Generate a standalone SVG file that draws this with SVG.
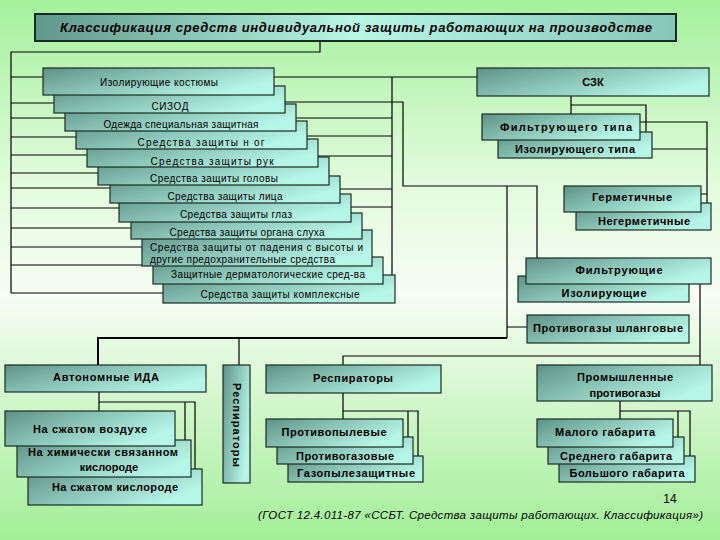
<svg xmlns="http://www.w3.org/2000/svg" width="720" height="540" viewBox="0 0 720 540">
<defs>
<linearGradient id="bg" x1="0" y1="0" x2="0" y2="1">
<stop offset="0" stop-color="#a4f19c"/>
<stop offset="0.35" stop-color="#e4fbdf"/>
<stop offset="0.55" stop-color="#f6fdf4"/>
<stop offset="0.75" stop-color="#d2f6cb"/>
<stop offset="1" stop-color="#a2ef98"/>
</linearGradient>
<linearGradient id="bx" x1="0" y1="0" x2="1" y2="0.5">
<stop offset="0" stop-color="#5e9286"/>
<stop offset="0.4" stop-color="#82bcae"/>
<stop offset="1" stop-color="#b6f6e6"/>
</linearGradient>
<linearGradient id="tg" x1="0" y1="0" x2="1" y2="0">
<stop offset="0" stop-color="#5f988a"/>
<stop offset="0.5" stop-color="#b8f7e6"/>
<stop offset="1" stop-color="#86c6b6"/>
</linearGradient>
<style>
.b{fill:url(#bx);stroke:#1b2a24;stroke-width:1.2}
.t{fill:url(#tg);stroke:#1b2a24;stroke-width:2}
.c{fill:none;stroke:#000;stroke-width:1.2}
.n{font-family:"Liberation Sans",Arial,sans-serif;font-size:10px;fill:#000;text-anchor:middle}
.s{text-anchor:start}
.k{font-family:"Liberation Sans",Arial,sans-serif;font-size:11px;font-weight:bold;fill:#000;text-anchor:middle}
.h{font-family:"Liberation Sans",Arial,sans-serif;font-size:13px;font-weight:bold;font-style:italic;fill:#000;text-anchor:middle}
.f{font-family:"Liberation Sans",Arial,sans-serif;font-size:11.5px;font-style:italic;fill:#000}
</style>
</defs>
<rect x="0" y="0" width="720" height="540" fill="url(#bg)"/>

<g id="connectors">
<path class="c" d="M320,41 V52 H11 V293"/>
<path class="c" d="M11,77 H43 M11,103 H54 M11,118 H65 M11,137 H76 M11,155 H87 M11,173 H98 M11,188 H110 M11,208 H119 M11,228 H131 M11,247 H142 M11,265 H153 M11,293 H163"/>
<path class="c" d="M274,77 H477 M392,77 V275 M296,118 H392 M307,136 H392 M318,156 H392 M340,189 H392 M351,207 H392"/>
<path class="c" d="M285,102 H403 V186 H537 V258 M507,186 V338 M507,327 H527"/>
<path class="c" style="stroke-width:2" d="M98,365 V338 H507"/>
<path class="c" d="M239,338 V365"/>
<path class="c" d="M571,96 V114 M571,105 H646 V132 M640,122 H707 V203 M652,149 H707 M701,194 H707"/>
<path class="c" d="M700,284 V365 M343,365 V356 H700"/>
<path class="c" d="M343,393 V419 M343,411 H418 V456 M408,411 V437"/>
<path class="c" d="M620,401 V419 M620,411 H690 V456 M678,411 V437"/>
<path class="c" d="M99,392 V411 M99,402 H195 V469 M185,402 V440"/>
</g>

<g id="title">
<rect class="t" x="35" y="14" width="641" height="27"/>
<text class="h" x="356" y="32" textLength="592" lengthAdjust="spacing">Классификация средств индивидуальной защиты работающих на производстве</text>
</g>

<g id="n12"><rect class="b" x="163" y="275" width="232" height="28"/><text class="n" x="280" y="297.5" textLength="159" lengthAdjust="spacing">Средства защиты комплексные</text></g>
<g id="n11"><rect class="b" x="153" y="257" width="230" height="27"/><text class="n" x="268" y="277.5" textLength="194" lengthAdjust="spacing">Защитные дерматологические сред-ва</text></g>
<g id="n10"><rect class="b" x="142" y="230" width="230" height="36"/><text class="n s" x="150" y="250.5" textLength="213" lengthAdjust="spacing">Средства защиты от падения с высоты и</text><text class="n s" x="150" y="262.5" textLength="185" lengthAdjust="spacing">другие предохранительные средства</text></g>
<g id="n9"><rect class="b" x="131" y="213" width="231" height="26"/><text class="n" x="247" y="235.5" textLength="155" lengthAdjust="spacing">Средства защиты органа слуха</text></g>
<g id="n8"><rect class="b" x="119" y="194" width="232" height="28"/><text class="n" x="236" y="217.5" textLength="112" lengthAdjust="spacing">Средства защиты глаз</text></g>
<g id="n7"><rect class="b" x="110" y="176" width="230" height="27"/><text class="n" x="225" y="199.5" textLength="115" lengthAdjust="spacing">Средства защиты лица</text></g>
<g id="n6"><rect class="b" x="98" y="157" width="231" height="28"/><text class="n" x="214" y="181.5" textLength="128" lengthAdjust="spacing">Средства защиты головы</text></g>
<g id="n5"><rect class="b" x="87" y="139" width="231" height="28"/><text class="n" x="212" y="164.5" textLength="123" lengthAdjust="spacing">Средства защиты рук</text></g>
<g id="n4"><rect class="b" x="76" y="121" width="231" height="28"/><text class="n" x="201" y="145.5" textLength="127" lengthAdjust="spacing">Средства защиты н ог</text></g>
<g id="n3"><rect class="b" x="65" y="104" width="231" height="27"/><text class="n" x="181" y="127.5" textLength="155" lengthAdjust="spacing">Одежда специальная защитная</text></g>
<g id="n2"><rect class="b" x="54" y="86" width="231" height="27"/><text class="n" x="170" y="109.5" textLength="37" lengthAdjust="spacing">СИЗОД</text></g>
<g id="n1"><rect class="b" x="43" y="68" width="231" height="27"/><text class="n" x="159" y="85.5" textLength="118" lengthAdjust="spacing">Изолирующие костюмы</text></g>

<g id="szk"><rect class="b" x="477" y="68" width="232" height="28"/><text class="k" x="593" y="86">СЗК</text></g>
<g id="izol-tip"><rect class="b" x="498" y="132" width="154" height="26"/><text class="k" x="575" y="153" textLength="120" lengthAdjust="spacing">Изолирующего типа</text></g>
<g id="filtr-tip"><rect class="b" x="482" y="114" width="158" height="26"/><text class="k" x="566" y="131" textLength="132" lengthAdjust="spacing">Фильтрующего типа</text></g>
<g id="negerm"><rect class="b" x="576" y="203" width="135" height="27"/><text class="k" x="644" y="225" textLength="92" lengthAdjust="spacing">Негерметичные</text></g>
<g id="germ"><rect class="b" x="564" y="186" width="137" height="26"/><text class="k" x="632" y="201" textLength="80" lengthAdjust="spacing">Герметичные</text></g>
<g id="izol"><rect class="b" x="518" y="276" width="171" height="26"/><text class="k" x="604" y="297" textLength="85" lengthAdjust="spacing">Изолирующие</text></g>
<g id="filtr"><rect class="b" x="526" y="258" width="185" height="26"/><text class="k" x="619" y="274" textLength="87" lengthAdjust="spacing">Фильтрующие</text></g>
<g id="shlang"><rect class="b" x="527" y="315" width="162" height="28"/><text class="k" x="608" y="332" textLength="150" lengthAdjust="spacing">Противогазы шланговые</text></g>

<g id="resp"><rect class="b" x="266" y="365" width="175" height="28"/><text class="k" x="353" y="382" textLength="80" lengthAdjust="spacing">Респираторы</text></g>
<g id="prom"><rect class="b" x="537" y="365" width="175" height="36"/><text class="k" x="625" y="381" textLength="96" lengthAdjust="spacing">Промышленные</text><text class="k" x="625" y="397">противогазы</text></g>
<g id="gazopyl"><rect class="b" x="288" y="456" width="135" height="26"/><text class="k" x="356" y="477" textLength="118" lengthAdjust="spacing">Газопылезащитные</text></g>
<g id="protgaz"><rect class="b" x="277" y="437" width="136" height="27"/><text class="k" x="345" y="460" textLength="98" lengthAdjust="spacing">Противогазовые</text></g>
<g id="protpyl"><rect class="b" x="266" y="419" width="137" height="28"/><text class="k" x="334" y="436" textLength="105" lengthAdjust="spacing">Противопылевые</text></g>
<g id="bolsh"><rect class="b" x="559" y="456" width="136" height="26"/><text class="k" x="627" y="477" textLength="115" lengthAdjust="spacing">Большого габарита</text></g>
<g id="sredn"><rect class="b" x="548" y="437" width="136" height="27"/><text class="k" x="616" y="460" textLength="112" lengthAdjust="spacing">Среднего габарита</text></g>
<g id="malo"><rect class="b" x="537" y="419" width="136" height="28"/><text class="k" x="605" y="436" textLength="100" lengthAdjust="spacing">Малого габарита</text></g>

<g id="avt"><rect class="b" x="5" y="365" width="201" height="27"/><text class="k" x="106" y="381" textLength="106" lengthAdjust="spacing">Автономные ИДА</text></g>
<g id="kisl"><rect class="b" x="28" y="469" width="174" height="36"/><text class="k" x="115" y="491" textLength="126" lengthAdjust="spacing">На сжатом кислороде</text></g>
<g id="khim"><rect class="b" x="17" y="440" width="174" height="37"/><text class="k" x="103" y="456" textLength="150" lengthAdjust="spacing">На химически связанном</text><text class="k" x="109" y="471">кислороде</text></g>
<g id="vozd"><rect class="b" x="5" y="411" width="170" height="35"/><text class="k" x="90" y="433" textLength="114" lengthAdjust="spacing">На сжатом воздухе</text></g>
<g id="resp-v"><rect class="b" x="223" y="365" width="27" height="118"/><text class="k" transform="translate(237,425) rotate(90)" x="0" y="4" textLength="84" lengthAdjust="spacing">Респираторы</text></g>

<g id="footer">
<text class="f" x="670" y="503" style="font-style:normal;font-size:12px" text-anchor="middle">14</text>
<text class="f" x="258" y="519" textLength="445" lengthAdjust="spacing">(ГОСТ 12.4.011-87 «ССБТ. Средства защиты работающих. Классификация»)</text>
</g>
</svg>
